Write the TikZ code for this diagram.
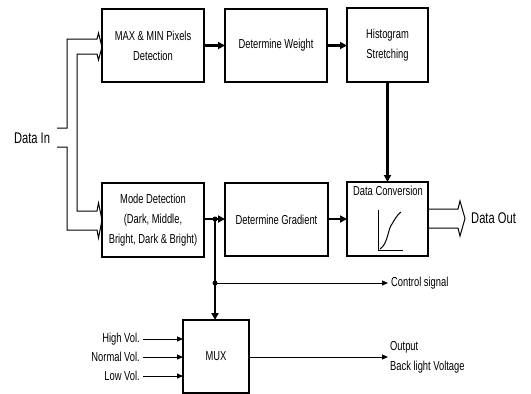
\documentclass[tikz,border=0pt]{standalone}
\usepackage{fontspec}
\setmainfont[FakeStretch=0.72]{Liberation Sans}
\usetikzlibrary{arrows.meta,calc}
\begin{document}
\begin{tikzpicture}[x=1pt,y=-1pt,
  blk/.style={draw,line width=1.3pt,inner sep=0pt,outer sep=0pt,align=center,font=\fontsize{13}{20}\selectfont},
  thickarr/.style={line width=2.4pt,-{Triangle[length=7pt,width=7pt]}},
  thinarr/.style={line width=1pt,-{Triangle[length=6pt,width=5pt]}},
  bus/.style={line width=1pt,line join=miter},
  lbl/.style={font=\fontsize{13}{13}\selectfont,inner sep=0pt},
  biglbl/.style={font=\fontsize{15.5}{16}\selectfont,inner sep=0pt},
  dot/.style={circle,fill,inner sep=0pt,minimum size=5pt}]
\useasboundingbox (0,0) rectangle (531,394);
% blocks
\node[blk,minimum width=102pt,minimum height=73pt] (maxmin) at (153,45.5) {MAX \& MIN Pixels\\Detection};
\node[blk,minimum width=102pt,minimum height=73pt] (weight) at (276,45.5) {Determine Weight};
\node[blk,minimum width=81pt,minimum height=74pt] (hist) at (387.5,45) {Histogram\\Stretching};
\node[blk,minimum width=102pt,minimum height=74pt] (mode) at (153,220) {Mode Detection\\(Dark, Middle,\\Bright, Dark \& Bright)};
\node[blk,minimum width=103pt,minimum height=73pt] (grad) at (276.5,219.5) {Determine Gradient};
\node[blk,minimum width=81pt,minimum height=74pt] (conv) at (387.5,219) {};
\node[lbl,anchor=north] (convt) at (388,186) {Data Conversion};
\node[blk,minimum width=66pt,minimum height=73pt] (mux) at (216,356.5) {MUX};
% plot inside data conversion
\draw[line width=1pt] (378,210) -- (378,250) -- (403,250);
\draw[line width=1pt] (380,249) .. controls (388,244) and (388,228) .. (392,224) .. controls (395,219) and (397,215) .. (401,212);
% labels
\node[biglbl] (din) at (32,138) {Data In};
\node[biglbl,anchor=west] (dout) at (471,218.5) {Data Out};
% Data In bus
\draw[bus] (57,128) -- (67,128) -- (67,39) -- (97,39) -- (98.5,33) -- (maxmin.west |- 0,47) -- (98.5,60) -- (97,54) -- (77,54) -- (77,211) -- (97,211) -- (98.5,203) -- (mode.west) -- (98.5,238) -- (97,230) -- (67,230) -- (67,147) -- (57,147);
% Data Out bus
\draw[bus] (conv.east |- 0,209) -- (458,209) -- (460,201) -- (465,218.5) -- (460,236) -- (458,228) -- (conv.east |- 0,228);
% main flow arrows
\draw[thickarr] (maxmin.east |- 0,45.5) -- (weight.west |- 0,45.5);
\draw[thickarr] (weight.east |- 0,45.5) -- (hist.west |- 0,45.5);
\draw[thickarr] (hist.south) -- (conv.north);
\coordinate (j1) at (215,219);
\coordinate (j2) at (215,283);
\draw[line width=2.4pt] (mode.east |- j1) -- (j1);
\draw[thickarr] (j1) -- (grad.west |- j1);
\draw[thickarr] (grad.east |- j1) -- (conv.west |- j1);
\draw[thickarr] (j1) -- (j1 |- mux.north);
\node[dot] at (j1) {};
\node[dot] at (j2) {};
% control signal
\coordinate (cs) at (388,283);
\draw[thinarr] (j2) -- (cs);
\node[lbl,anchor=west] (cst) at (391,283) {Control signal};
% MUX output
\coordinate (mo) at (388,357);
\draw[thinarr] (mux.east |- mo) -- (mo);
\node[lbl,anchor=west] (out1) at (390,347) {Output};
\node[lbl,anchor=west] (out2) at (390,367.5) {Back light Voltage};
% MUX inputs
\node[lbl,anchor=east] (hv) at (140,339) {High Vol.};
\node[lbl,anchor=east] (nv) at (140,357) {Normal Vol.};
\node[lbl,anchor=east] (lv) at (140,376) {Low Vol.};
\draw[thinarr] (hv.east) ++(3,0) -- (mux.west |- hv.east);
\draw[thinarr] (nv.east) ++(3,0) -- (mux.west |- nv.east);
\draw[thinarr] (lv.east) ++(3,0) -- (mux.west |- lv.east);
\end{tikzpicture}
\end{document}
